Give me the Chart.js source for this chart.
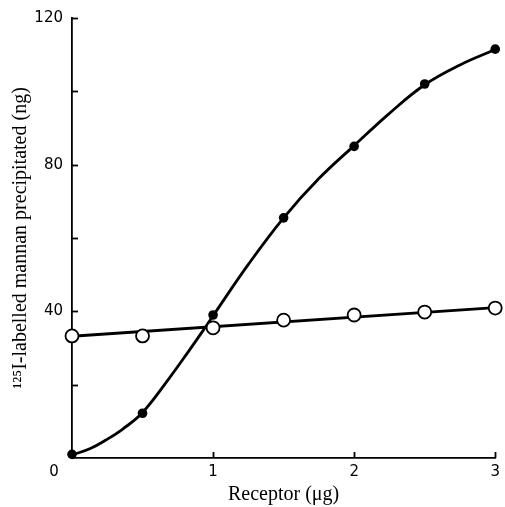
<!DOCTYPE html>
<html>
<head>
<meta charset="utf-8">
<script src="https://cdn.jsdelivr.net/npm/chart.js@4"></script>
<style>
html,body{margin:0;padding:0;background:#fff;}
#wrap{width:505px;height:507px;}
</style>
</head>
<body>
<div id="wrap"><canvas id="c" width="505" height="507"></canvas></div>
<script>
// Data
const receptorUg = [0, 0.5, 1, 1.5, 2, 2.5, 3];
const filledMannan = [1, 12.2, 39, 65.5, 85, 102, 111.5];
const openMannan = [33.3, 33.3, 35.5, 37.6, 39, 39.8, 40.9];
// path of the drawn smooth curve through the filled points
const filledCurveX = [0, 0.13, 0.24, 0.36, 0.5, 0.69, 0.83, 0.93, 1.0, 1.25, 1.5, 1.75, 2.0, 2.25, 2.5, 2.75, 3.0];
const filledCurveY = [0.8, 2.6, 4.9, 7.9, 12.4, 21.8, 29.3, 34.8, 38.8, 52.8, 65.5, 76.2, 85.2, 94, 101.8, 107.2, 111.4];
// straight line drawn through the open points
const openFitX = [0, 3];
const openFitY = [33.2, 41];
const xTickLabels = ['', '1', '2', '3'];
const yTickLabelsShown = [40, 80, 120];
const cornerLabel = '0';

const toPts = (xs, ys) => xs.map((x, i) => ({x: x, y: ys[i]}));
const tickFont = {family: 'DejaVu Sans', size: 15};

const innerTicks = {
  id: 'innerTicks',
  afterDatasetsDraw(chart) {
    const ctx = chart.ctx, xs = chart.scales.x, ys = chart.scales.y;
    const a = chart.chartArea;
    ctx.save();
    ctx.strokeStyle = '#000';
    ctx.lineWidth = 1.8;
    ys.ticks.forEach(t => {
      if (t.value === 0) return;
      const py = Math.round(ys.getPixelForValue(t.value)) + 0.5;
      ctx.beginPath(); ctx.moveTo(a.left, py); ctx.lineTo(a.left + 6, py); ctx.stroke();
    });
    xs.ticks.forEach(t => {
      if (t.value === 0) return;
      const px = Math.round(xs.getPixelForValue(t.value)) + 0.5;
      ctx.beginPath(); ctx.moveTo(px, a.bottom); ctx.lineTo(px, a.bottom - 6); ctx.stroke();
    });
    // shared origin label at the corner
    ctx.fillStyle = '#000';
    ctx.font = tickFont.size + 'px "' + tickFont.family + '"';
    ctx.textAlign = 'center';
    ctx.textBaseline = 'middle';
    ctx.fillText(cornerLabel, xs.getPixelForValue(0) - 18, ys.getPixelForValue(0) + 14);
    ctx.restore();
  }
};

new Chart(document.getElementById('c'), {
  type: 'scatter',
  data: {
    datasets: [
      {
        label: 'open',
        data: toPts(receptorUg, openMannan),
        showLine: false,
        pointStyle: 'circle',
        pointRadius: 6.5,
        pointBackgroundColor: '#fff',
        pointBorderColor: '#000',
        pointBorderWidth: 1.8,
        clip: false,
        order: 0
      },
      {
        label: 'filled',
        data: toPts(receptorUg, filledMannan),
        showLine: false,
        pointRadius: 4.8,
        pointBackgroundColor: '#000',
        pointBorderColor: '#000',
        pointBorderWidth: 0,
        clip: false,
        order: 1
      },
      {
        label: 'filledCurve',
        data: toPts(filledCurveX, filledCurveY),
        showLine: true,
        tension: 0.4,
        borderColor: '#000',
        borderWidth: 2.8,
        pointRadius: 0,
        clip: false,
        order: 2
      },
      {
        label: 'fit',
        data: toPts(openFitX, openFitY),
        showLine: true,
        borderColor: '#000',
        borderWidth: 2.8,
        pointRadius: 0,
        clip: false,
        order: 3
      }
    ]
  },
  options: {
    responsive: false,
    animation: false,
    layout: {padding: {top: 18, right: 7, left: 0, bottom: 0}},
    plugins: {legend: {display: false}, tooltip: {enabled: false}},
    scales: {
      x: {
        type: 'linear', min: 0, max: 3,
        ticks: {
          stepSize: 1, color: '#000', padding: 5,
          font: tickFont,
          callback: (v) => xTickLabels[v] !== undefined ? xTickLabels[v] : ''
        },
        grid: {display: false, tickLength: 0},
        border: {display: true, color: '#000', width: 1.8},
        title: {
          display: true, text: 'Receptor (μg)', color: '#000',
          font: {family: 'Liberation Serif', size: 20}, padding: {top: 0, bottom: 0}
        },
        afterFit: (s) => { s.height = 49; }
      },
      y: {
        type: 'linear', min: 0, max: 120,
        ticks: {
          stepSize: 20, color: '#000', padding: 9,
          font: tickFont,
          callback: (v) => yTickLabelsShown.includes(v) ? String(v) : ''
        },
        grid: {display: false, tickLength: 0},
        border: {display: true, color: '#000', width: 1.8},
        title: {
          display: true, text: '¹²⁵I-labelled mannan precipitated (ng)', color: '#000',
          font: {family: 'Liberation Serif', size: 20}, padding: {top: 9, bottom: 0}
        },
        afterFit: (s) => { s.width = 72; }
      }
    }
  },
  plugins: [innerTicks]
});
</script>
</body>
</html>
